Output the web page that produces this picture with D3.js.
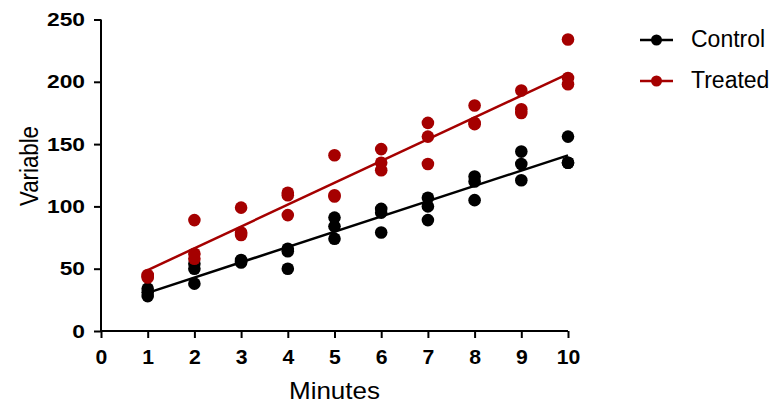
<!DOCTYPE html>
<html><head><meta charset="utf-8">
<script src="https://cdn.jsdelivr.net/npm/d3@7"></script>
<style>body{margin:0;background:#fff}svg{display:block}</style>
</head><body>
<svg id="c" width="782" height="409"></svg>
<script>
const minutes = [1,2,3,4,5,6,7,8,9,10];
const controlValues = [
  [28,31,34],[38,50,54],[55,56,57],[50,64,66],[74,84,91],
  [79,95,98],[89,100,107],[105,120,124],[121,134,144],[135,135,156]
];
const treatedValues = [
  [43,44,45],[58,62,89],[77,79,99],[93,109,111],[108,109,141],
  [129,135,146],[134,156,167],[166,167,181],[175,178,193],[198,203,234]
];
const xTicks = [0,1,2,3,4,5,6,7,8,9,10];
const yTicks = [0,50,100,150,200,250];
const seriesNames = ["Control","Treated"];
const seriesColors = ["#000000","#a50000"];

const FONT = "'Liberation Sans',Arial,sans-serif";
const svg = d3.select("#c");
const x = d3.scaleLinear().domain([0,10]).range([101,568]);
const y = d3.scaleLinear().domain([0,250]).range([331,19.5]);

function fit(vals){
  const pts=[]; minutes.forEach((m,i)=>vals[i].forEach(v=>pts.push([m,v])));
  const mx=d3.mean(pts,d=>d[0]), my=d3.mean(pts,d=>d[1]);
  const sxy=d3.sum(pts,d=>(d[0]-mx)*(d[1]-my)), sxx=d3.sum(pts,d=>(d[0]-mx)**2);
  const b=sxy/sxx, a=my-b*mx; return {a,b};
}
function stretch(sel, k){
  sel.each(function(){
    const w=this.getComputedTextLength();
    d3.select(this).attr("textLength",w*k).attr("lengthAdjust","spacingAndGlyphs");
  });
}

const xAxis = svg.append("g").attr("transform",`translate(0,${y(0)})`)
  .call(d3.axisBottom(x).tickValues(xTicks).tickSize(7).tickPadding(12).tickFormat(d3.format("d")));
const yAxis = svg.append("g").attr("transform",`translate(${x(0)},0)`)
  .call(d3.axisLeft(y).tickValues(yTicks).tickSize(7).tickPadding(9).tickFormat(d3.format("d")));
[xAxis,yAxis].forEach(g=>{
  g.select(".domain").attr("stroke","#000").attr("stroke-width",2);
  g.selectAll(".tick line").attr("stroke","#000").attr("stroke-width",2);
  g.selectAll(".tick text").attr("fill","#000").style("font-family",FONT).style("font-weight","bold");
});
xAxis.selectAll(".tick text").style("font-size","20px");
yAxis.selectAll(".tick text").style("font-size","19px");
stretch(xAxis.selectAll(".tick text"),1.06);
stretch(yAxis.selectAll(".tick text"),1.2);
xAxis.select(".domain").attr("d",`M${x(0)},0H${x(10)}`);
yAxis.select(".domain").attr("d",`M0,${y(0)}V${y(250)}`);

[controlValues,treatedValues].forEach((vals,si)=>{
  const {a,b}=fit(vals);
  svg.append("line").attr("x1",x(1)).attr("y1",y(a+b*1)).attr("x2",x(10)).attr("y2",y(a+b*10))
    .attr("stroke",seriesColors[si]).attr("stroke-width",2.5);
  const pts=[]; minutes.forEach((m,i)=>vals[i].forEach(v=>pts.push([m,v])));
  svg.append("g").selectAll("circle").data(pts).join("circle")
    .attr("cx",d=>x(d[0])).attr("cy",d=>y(d[1])).attr("r",6.3).attr("fill",seriesColors[si]);
});

// legend
seriesNames.forEach((n,i)=>{
  const ly = 40 + i*41;
  const g = svg.append("g");
  g.append("line").attr("x1",640).attr("x2",673).attr("y1",ly).attr("y2",ly)
    .attr("stroke",seriesColors[i]).attr("stroke-width",2.5);
  g.append("circle").attr("cx",656.5).attr("cy",ly).attr("r",5.5).attr("fill",seriesColors[i]);
  g.append("text").attr("x",691).attr("y",ly+6.5).text(n)
    .style("font-family",FONT).style("font-size","23px").attr("fill","#000");
});

svg.append("text").attr("x",x(5)).attr("y",398.5).attr("text-anchor","middle").text("Minutes")
  .attr("textLength",91).attr("lengthAdjust","spacingAndGlyphs")
  .style("font-family",FONT).style("font-size","24px").attr("fill","#000");
svg.append("text").attr("transform",`translate(37.5,166) rotate(-90)`).attr("text-anchor","middle").text("Variable")
  .attr("textLength",80).attr("lengthAdjust","spacingAndGlyphs")
  .style("font-family",FONT).style("font-size","25px").attr("fill","#000");
</script>
</body></html>
